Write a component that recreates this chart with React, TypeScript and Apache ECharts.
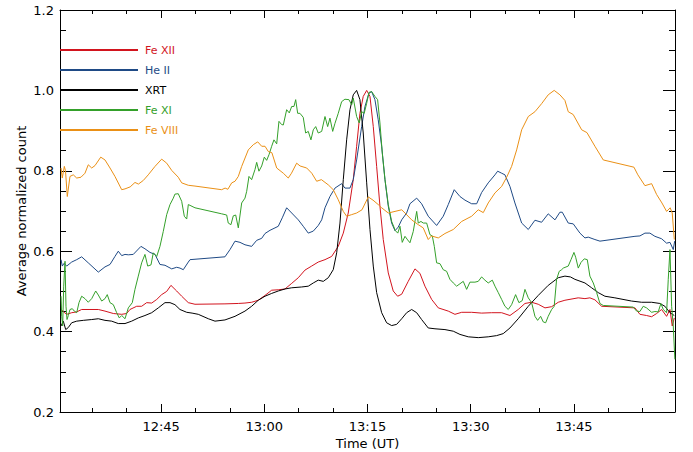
import React, { useEffect, useRef } from "react";
import * as echarts from "echarts";

// Time in minutes after 12:00 UT, value = average normalized count
const feXII: [number, number][] = [[30.45,0.455],[30.9,0.448],[31.27,0.443],[32.0,0.447],[32.73,0.449],[33.45,0.455],[34.66,0.455],[35.87,0.455],[36.84,0.451],[38.05,0.445],[39.27,0.443],[39.99,0.445],[40.47,0.455],[41.45,0.463],[42.17,0.463],[42.9,0.472],[43.63,0.471],[44.36,0.48],[45.08,0.492],[45.81,0.5],[46.43,0.515],[47.26,0.501],[47.99,0.488],[48.95,0.472],[49.92,0.468],[54.28,0.469],[56.22,0.47],[57.19,0.471],[58.16,0.473],[59.12,0.478],[60.1,0.49],[61.07,0.503],[62.03,0.504],[63.0,0.506],[63.98,0.52],[64.94,0.534],[65.91,0.553],[66.88,0.563],[67.84,0.573],[68.82,0.579],[69.79,0.587],[70.75,0.612],[71.48,0.645],[72.2,0.695],[72.93,0.778],[73.42,0.861],[73.9,0.943],[74.38,0.985],[74.88,1.0],[75.36,0.985],[75.84,0.91],[76.33,0.811],[76.81,0.712],[77.29,0.629],[78.02,0.546],[78.74,0.501],[79.38,0.488],[79.97,0.493],[80.92,0.525],[81.9,0.556],[82.62,0.545],[83.35,0.513],[84.33,0.48],[85.29,0.459],[86.74,0.451],[87.71,0.443],[88.69,0.448],[90.14,0.448],[91.59,0.446],[93.05,0.447],[94.5,0.447],[95.71,0.44],[96.91,0.455],[97.89,0.47],[98.86,0.473],[99.82,0.468],[100.8,0.459],[101.77,0.462],[102.73,0.473],[103.7,0.478],[105.63,0.484],[106.61,0.482],[107.33,0.484],[108.06,0.479],[109.03,0.463],[113.88,0.459],[114.6,0.443],[115.57,0.44],[116.3,0.437],[117.03,0.445],[117.75,0.455],[118.48,0.438],[118.97,0.455],[119.3,0.414],[119.6,0.434]];

const heII: [number, number][] = [[30.45,0.579],[30.63,0.563],[30.9,0.57],[31.27,0.563],[32.0,0.573],[32.73,0.579],[33.45,0.586],[34.41,0.571],[35.87,0.548],[36.84,0.561],[37.57,0.567],[38.29,0.587],[38.77,0.6],[39.27,0.589],[39.75,0.592],[40.23,0.591],[40.95,0.592],[42.07,0.612],[42.65,0.606],[43.38,0.597],[44.11,0.592],[44.83,0.567],[45.56,0.565],[46.54,0.556],[47.26,0.56],[47.74,0.558],[48.22,0.554],[48.95,0.573],[49.2,0.579],[54.28,0.586],[55.01,0.604],[55.74,0.625],[56.46,0.622],[57.19,0.616],[58.16,0.612],[58.89,0.627],[59.62,0.632],[60.1,0.644],[60.83,0.652],[61.55,0.658],[62.03,0.662],[62.61,0.683],[63.25,0.708],[63.98,0.695],[64.94,0.678],[65.66,0.662],[66.39,0.645],[67.12,0.65],[67.84,0.664],[68.34,0.678],[68.82,0.708],[69.54,0.736],[70.27,0.757],[71.24,0.768],[71.72,0.757],[72.45,0.757],[72.93,0.778],[73.42,0.827],[74.15,0.91],[74.63,0.96],[75.21,0.993],[75.6,0.997],[76.08,0.977],[76.56,0.927],[77.06,0.861],[77.54,0.778],[78.02,0.712],[78.51,0.67],[79.0,0.651],[79.47,0.66],[79.97,0.678],[80.69,0.695],[81.17,0.718],[82.15,0.732],[82.87,0.718],[83.83,0.687],[85.05,0.664],[86.01,0.687],[86.74,0.716],[87.61,0.753],[88.44,0.736],[89.17,0.727],[90.14,0.718],[90.87,0.718],[91.59,0.746],[92.55,0.77],[93.53,0.79],[93.92,0.799],[94.5,0.794],[94.98,0.79],[95.71,0.761],[96.43,0.72],[97.41,0.67],[98.37,0.654],[99.34,0.677],[100.31,0.672],[101.27,0.693],[102.25,0.678],[102.97,0.697],[103.31,0.697],[104.18,0.67],[104.91,0.668],[105.88,0.645],[106.61,0.633],[107.09,0.635],[108.06,0.629],[108.79,0.625],[113.88,0.637],[114.6,0.638],[115.33,0.645],[116.05,0.645],[116.78,0.637],[117.75,0.631],[118.48,0.62],[118.97,0.622],[119.45,0.604],[119.65,0.625]];

const xrt: [number, number][] = [[30.45,0.414],[30.78,0.426],[31.13,0.405],[31.5,0.41],[32.0,0.422],[32.73,0.426],[33.69,0.428],[34.91,0.43],[35.87,0.432],[36.84,0.428],[37.81,0.426],[38.77,0.42],[39.75,0.42],[40.72,0.426],[41.68,0.434],[42.65,0.44],[43.63,0.447],[44.59,0.459],[45.56,0.472],[46.29,0.472],[47.01,0.467],[47.74,0.455],[48.72,0.448],[49.5,0.446],[50.4,0.443],[51.86,0.432],[52.83,0.426],[54.28,0.429],[55.74,0.438],[57.19,0.451],[58.16,0.463],[59.12,0.478],[60.1,0.488],[61.07,0.495],[62.03,0.501],[63.0,0.506],[63.98,0.509],[65.43,0.511],[66.39,0.513],[67.12,0.521],[67.84,0.528],[68.57,0.525],[69.3,0.534],[70.02,0.554],[70.52,0.596],[71.0,0.67],[71.48,0.778],[71.97,0.877],[72.45,0.952],[72.93,0.989],[73.42,1.0],[73.9,0.977],[74.38,0.894],[74.88,0.77],[75.36,0.654],[75.84,0.563],[76.33,0.497],[77.06,0.447],[77.78,0.422],[78.51,0.415],[79.24,0.418],[79.97,0.432],[80.69,0.447],[81.42,0.455],[82.15,0.447],[82.87,0.43],[83.83,0.409],[84.81,0.407],[86.26,0.405],[87.47,0.401],[88.44,0.393],[89.65,0.387],[91.1,0.385],[92.55,0.387],[93.77,0.39],[94.73,0.395],[95.71,0.409],[96.91,0.432],[98.37,0.463],[99.82,0.49],[101.27,0.515],[102.73,0.534],[103.7,0.538],[104.5,0.536],[105.15,0.53],[106.61,0.521],[107.58,0.509],[108.54,0.497],[109.51,0.488],[110.96,0.484],[113.39,0.476],[114.84,0.473],[116.3,0.473],[117.5,0.47],[118.23,0.463],[118.97,0.447],[119.6,0.44]];

const feXI: [number, number][] = [[30.45,0.488],[30.55,0.438],[30.69,0.414],[30.84,0.513],[31.03,0.575],[31.17,0.463],[31.32,0.43],[31.51,0.44],[31.75,0.455],[32.09,0.457],[32.38,0.451],[32.73,0.447],[33.06,0.472],[33.45,0.488],[33.93,0.482],[34.41,0.473],[34.91,0.482],[35.49,0.501],[35.87,0.491],[36.36,0.476],[36.84,0.482],[37.17,0.492],[37.57,0.472],[38.05,0.467],[38.54,0.447],[38.92,0.434],[39.27,0.44],[39.75,0.432],[40.23,0.459],[40.81,0.472],[41.2,0.505],[41.68,0.538],[42.17,0.571],[42.65,0.592],[43.05,0.563],[43.53,0.566],[43.86,0.596],[44.36,0.587],[44.83,0.612],[45.31,0.649],[45.81,0.691],[46.29,0.716],[46.77,0.732],[47.01,0.742],[47.49,0.743],[47.99,0.724],[48.37,0.687],[48.72,0.68],[48.95,0.716],[49.2,0.714],[49.92,0.708],[53.8,0.693],[54.53,0.69],[54.76,0.67],[55.15,0.666],[55.49,0.688],[55.84,0.69],[56.22,0.658],[56.71,0.72],[57.19,0.732],[57.44,0.749],[57.77,0.786],[58.16,0.778],[58.64,0.803],[58.89,0.821],[59.22,0.799],[59.62,0.812],[60.0,0.834],[60.34,0.826],[60.68,0.84],[61.07,0.861],[61.4,0.877],[61.8,0.867],[62.13,0.923],[62.52,0.915],[62.76,0.914],[63.25,0.952],[63.63,0.944],[63.98,0.96],[64.31,0.96],[64.56,0.977],[64.85,0.943],[65.18,0.943],[65.66,0.933],[66.01,0.894],[66.39,0.898],[66.78,0.877],[67.12,0.902],[67.47,0.91],[67.84,0.894],[68.34,0.898],[68.82,0.935],[69.21,0.91],[69.54,0.931],[69.94,0.898],[70.27,0.918],[70.75,0.943],[71.24,0.972],[71.72,0.978],[72.3,0.977],[72.7,0.964],[72.93,0.981],[73.42,0.935],[73.8,0.919],[74.15,0.947],[74.52,0.943],[74.88,0.968],[75.21,0.995],[75.6,0.997],[76.08,0.985],[76.47,0.977],[76.81,0.919],[77.15,0.844],[77.54,0.778],[78.02,0.716],[78.51,0.674],[78.89,0.658],[79.0,0.652],[79.4,0.645],[79.72,0.662],[80.05,0.622],[80.45,0.637],[80.84,0.628],[81.17,0.621],[81.65,0.649],[82.15,0.699],[82.38,0.67],[82.77,0.674],[83.11,0.67],[83.6,0.67],[84.08,0.641],[84.42,0.638],[84.71,0.612],[85.05,0.571],[85.53,0.569],[86.01,0.554],[86.5,0.55],[86.98,0.53],[87.47,0.521],[87.96,0.513],[88.44,0.519],[88.92,0.525],[89.41,0.505],[89.89,0.523],[90.62,0.523],[91.1,0.525],[91.59,0.536],[92.07,0.528],[92.55,0.521],[93.14,0.528],[93.53,0.513],[94.01,0.497],[94.5,0.48],[94.98,0.463],[95.46,0.455],[95.95,0.467],[96.53,0.492],[97.01,0.472],[97.49,0.477],[97.89,0.505],[98.37,0.484],[98.86,0.472],[99.34,0.438],[99.73,0.428],[100.17,0.438],[100.55,0.424],[100.9,0.422],[101.27,0.438],[101.77,0.455],[102.14,0.463],[102.49,0.53],[102.87,0.55],[103.22,0.554],[103.46,0.558],[104.18,0.563],[104.58,0.579],[105.01,0.597],[105.26,0.585],[105.64,0.558],[106.03,0.572],[106.51,0.581],[106.95,0.579],[107.33,0.538],[107.82,0.521],[108.31,0.497],[108.79,0.47],[109.27,0.465],[113.63,0.461],[114.12,0.451],[114.6,0.45],[115.08,0.463],[115.57,0.459],[116.3,0.448],[116.78,0.45],[117.26,0.449],[117.65,0.47],[117.99,0.455],[118.48,0.447],[118.72,0.53],[118.97,0.604],[119.21,0.463],[119.45,0.414],[119.68,0.331]];

const feVIII: [number, number][] = [[30.45,0.807],[30.63,0.782],[30.93,0.811],[31.1,0.8],[31.36,0.736],[31.75,0.786],[32.23,0.79],[32.73,0.782],[33.35,0.784],[33.93,0.794],[34.41,0.815],[34.91,0.807],[35.39,0.813],[36.22,0.834],[36.84,0.827],[37.57,0.807],[38.29,0.786],[39.27,0.753],[39.75,0.755],[40.5,0.76],[41.2,0.771],[41.7,0.767],[42.41,0.776],[43.13,0.79],[44.11,0.811],[45.08,0.829],[45.81,0.819],[46.54,0.801],[47.49,0.784],[47.99,0.77],[48.95,0.764],[49.92,0.762],[53.8,0.753],[54.3,0.757],[54.7,0.754],[55.26,0.77],[55.74,0.774],[56.22,0.786],[56.71,0.811],[57.67,0.852],[58.4,0.865],[59.04,0.872],[59.62,0.861],[60.1,0.861],[60.58,0.848],[61.1,0.845],[61.8,0.807],[62.76,0.794],[63.48,0.782],[63.95,0.794],[64.7,0.819],[65.2,0.812],[66.16,0.807],[66.9,0.794],[67.61,0.774],[68.3,0.778],[69.3,0.765],[70.02,0.753],[70.75,0.728],[71.48,0.699],[71.97,0.687],[72.7,0.691],[73.42,0.695],[74.2,0.703],[75.11,0.735],[75.8,0.727],[76.56,0.716],[77.06,0.708],[78.02,0.695],[79.0,0.699],[79.97,0.703],[80.45,0.695],[81.42,0.678],[82.38,0.666],[83.1,0.658],[83.83,0.629],[84.3,0.638],[85.29,0.633],[86.26,0.644],[87.47,0.654],[88.69,0.674],[90.14,0.687],[91.1,0.703],[91.83,0.696],[92.55,0.72],[93.53,0.745],[94.5,0.761],[95.23,0.784],[95.95,0.811],[96.68,0.852],[97.41,0.902],[98.37,0.935],[99.34,0.947],[100.31,0.967],[101.27,0.989],[102.14,1.0],[102.97,0.989],[103.7,0.975],[104.18,0.947],[104.9,0.94],[106.13,0.902],[106.9,0.895],[108.06,0.861],[109.27,0.827],[113.73,0.809],[114.3,0.79],[115.33,0.763],[116.3,0.768],[117.03,0.741],[117.8,0.72],[118.48,0.699],[119.0,0.708],[119.3,0.695],[119.6,0.629]];

const seriesNames = ["Fe XII", "He II", "XRT", "Fe XI", "Fe VIII"];
const seriesColors = ["#d2141e", "#1f4a85", "#000000", "#34a02a", "#ea9016"];
const seriesData = [feXII, heII, xrt, feXI, feVIII];

const majorTimes = [45, 60, 75, 90, 105];
const minorTimes = [35, 40, 45, 50, 55, 60, 65, 70, 75, 80, 85, 90, 95, 100, 105, 110, 115];

const FONT = "DejaVu Sans";

function fmtTime(m: number): string {
  const h = 12 + Math.floor(m / 60);
  const mm = Math.round(m % 60);
  return `${h}:${mm < 10 ? "0" + mm : mm}`;
}

export default function App() {
  const ref = useRef<HTMLDivElement>(null);
  useEffect(() => {
    if (!ref.current) return;
    const chart = echarts.init(ref.current, null, { renderer: "svg" });
    const xMin = 30.3;
    const xMax = 119.7;
    const black = "#000";
    const baseX = {
      type: "value" as const,
      min: xMin,
      max: xMax,
      splitLine: { show: false },
    };
    const baseY = {
      type: "value" as const,
      min: 0.2,
      max: 1.2,
      interval: 0.2,
      splitLine: { show: false },
      minorSplitLine: { show: false },
      axisLine: { show: true, lineStyle: { color: black, width: 1 } },
      axisTick: { show: true, inside: true, length: 12, lineStyle: { color: black } },
      minorTick: { show: true, splitNumber: 4, length: 6, lineStyle: { color: black } },
    };
    chart.setOption({
      animation: false,
      backgroundColor: "#fff",
      grid: { left: 60, right: 18, top: 10, bottom: 40, containLabel: false, outerBoundsMode: "none" },
      legend: {
        orient: "vertical",
        left: 60,
        top: 43,
        padding: 0,
        itemWidth: 78,
        itemHeight: 2,
        itemGap: 6,
        icon: "rect",
        selectedMode: false,
        textStyle: { fontFamily: FONT, fontSize: 11, lineHeight: 14, padding: [0, 0, 0, 2] },
        data: seriesNames.map((n, i) => ({ name: n, textStyle: { color: seriesColors[i] } })),
      },
      xAxis: [
        {
          ...baseX,
          position: "bottom",
          name: "Time (UT)",
          nameLocation: "middle",
          nameGap: 25,
          nameMoveOverlap: false,
          nameTextStyle: { fontFamily: FONT, fontSize: 13, color: black },
          axisLine: { show: true, lineStyle: { color: black, width: 1 } },
          axisTick: { show: true, inside: true, length: 4, customValues: minorTimes, lineStyle: { color: black } },
          axisLabel: {
            show: true,
            customValues: majorTimes,
            margin: 8,
            fontFamily: FONT,
            fontSize: 13,
            color: black,
            formatter: (v: number) => fmtTime(v),
          },
        },
        {
          ...baseX,
          position: "bottom",
          axisLine: { show: false },
          axisTick: { show: true, inside: true, length: 8, customValues: majorTimes, lineStyle: { color: black } },
          axisLabel: { show: false },
        },
        {
          ...baseX,
          position: "top",
          axisLine: { show: true, lineStyle: { color: black, width: 1 } },
          axisTick: { show: true, inside: true, length: 4, customValues: minorTimes, lineStyle: { color: black } },
          axisLabel: { show: false },
        },
        {
          ...baseX,
          position: "top",
          axisLine: { show: false },
          axisTick: { show: true, inside: true, length: 8, customValues: majorTimes, lineStyle: { color: black } },
          axisLabel: { show: false },
        },
      ],
      yAxis: [
        {
          ...baseY,
          position: "left",
          name: "Average normalized count",
          nameLocation: "middle",
          nameGap: 32,
          nameMoveOverlap: false,
          nameTextStyle: { fontFamily: FONT, fontSize: 13, color: black },
          axisLabel: {
            show: true,
            margin: 6,
            fontFamily: FONT,
            fontSize: 13,
            color: black,
            formatter: (v: number) => v.toFixed(1),
          },
        },
        {
          ...baseY,
          position: "right",
          axisLabel: { show: false },
        },
      ],
      series: seriesNames.map((n, i) => ({
        name: n,
        type: "line",
        xAxisIndex: 0,
        yAxisIndex: 0,
        data: seriesData[i],
        showSymbol: false,
        symbol: "none",
        color: seriesColors[i],
        lineStyle: { color: seriesColors[i], width: 1 },
        itemStyle: { color: seriesColors[i] },
        clip: true,
      })),
    });
    return () => chart.dispose();
  }, []);
  return (
    <div
      ref={ref}
      style={{ position: "fixed", left: 0, top: 0, width: 693, height: 452, background: "#fff" }}
    />
  );
}
